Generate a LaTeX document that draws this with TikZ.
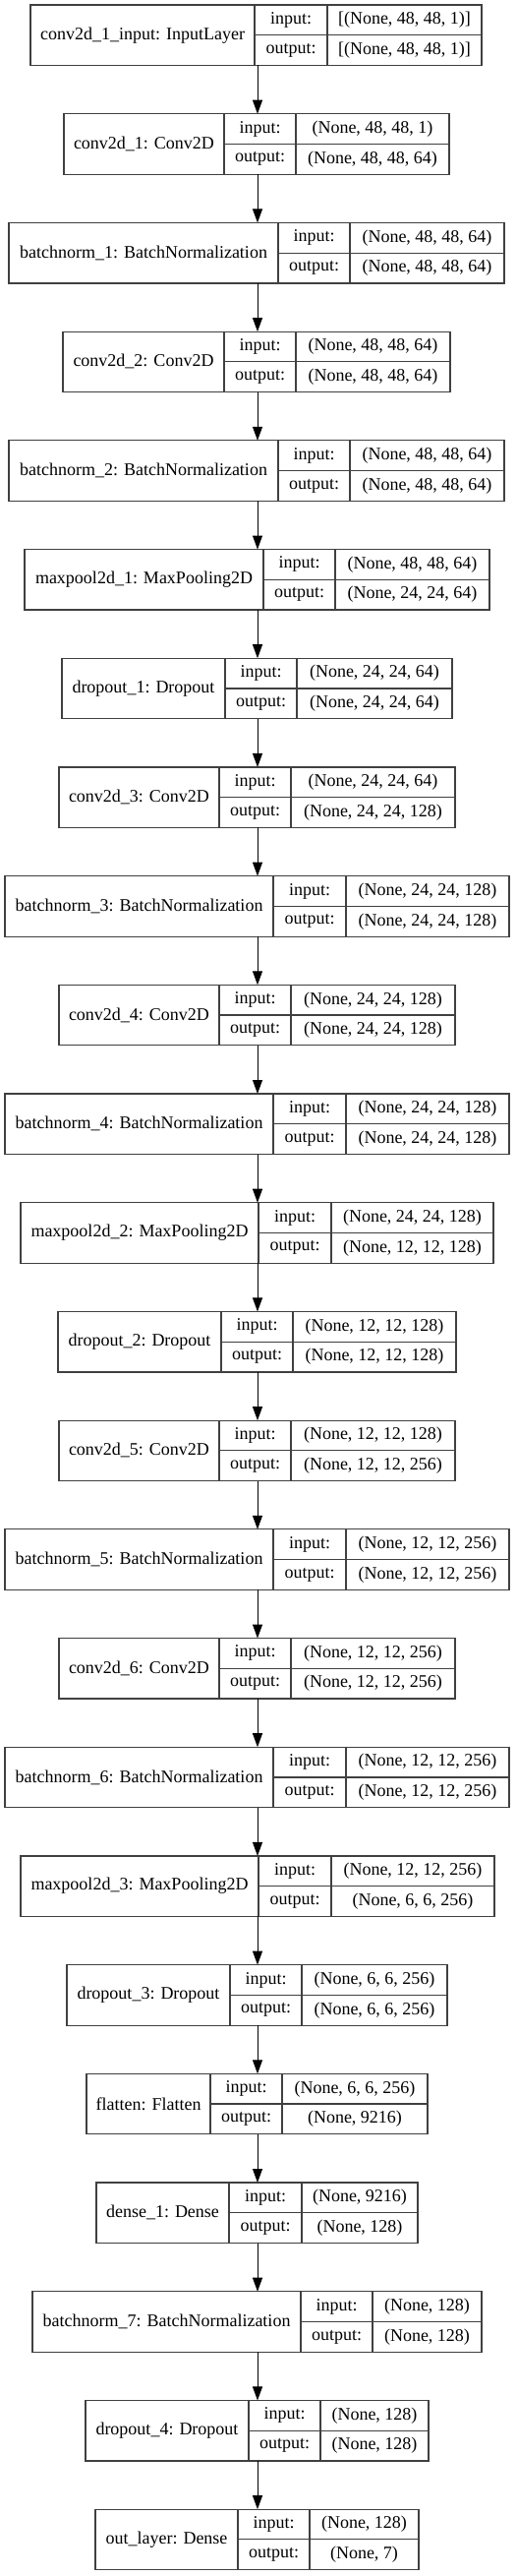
\documentclass[tikz,border=0pt]{standalone}
\usepackage{fontspec}
\setmainfont{Liberation Serif}
\usepackage{tikz}
\usetikzlibrary{arrows.meta, positioning}
\tikzstyle{arrow} = [line width=0.75pt, -{Triangle[length=10.5pt, width=7.5pt]}]
\tikzstyle{cell} = [draw=black!75, line width=0.9pt, inner sep=0pt, outer sep=0pt, font=\fontsize{13.5}{16}\selectfont]

\begin{document}
\begin{tikzpicture}[x=0.75pt, y=-0.75pt]
\useasboundingbox (0,0) rectangle (525,2619);
\coordinate (ax) at (262,0);

% Layers: left / divider / divider / right, name, input, output
\foreach \xl/\da/\db/\xr/\lab/\vin/\vout [count=\i] in {
 31/259/333/490/{conv2d\_1\_input: InputLayer}/{[(None, 48, 48, 1)]}/{[(None, 48, 48, 1)]},
 65/228/301/457/{conv2d\_1: Conv2D}/{(None, 48, 48, 1)}/{(None, 48, 48, 64)},
 9/283/356/513/{batchnorm\_1: BatchNormalization}/{(None, 48, 48, 64)}/{(None, 48, 48, 64)},
 64/228/301/458/{conv2d\_2: Conv2D}/{(None, 48, 48, 64)}/{(None, 48, 48, 64)},
 9/283/356/513/{batchnorm\_2: BatchNormalization}/{(None, 48, 48, 64)}/{(None, 48, 48, 64)},
 25/268/341/498/{maxpool2d\_1: MaxPooling2D}/{(None, 48, 48, 64)}/{(None, 24, 24, 64)},
 63/229/302/460/{dropout\_1: Dropout}/{(None, 24, 24, 64)}/{(None, 24, 24, 64)},
 60/223/296/463/{conv2d\_3: Conv2D}/{(None, 24, 24, 64)}/{(None, 24, 24, 128)},
 5/278/352/518/{batchnorm\_3: BatchNormalization}/{(None, 24, 24, 128)}/{(None, 24, 24, 128)},
 60/223/296/463/{conv2d\_4: Conv2D}/{(None, 24, 24, 128)}/{(None, 24, 24, 128)},
 5/278/352/518/{batchnorm\_4: BatchNormalization}/{(None, 24, 24, 128)}/{(None, 24, 24, 128)},
 21/263/337/502/{maxpool2d\_2: MaxPooling2D}/{(None, 24, 24, 128)}/{(None, 12, 12, 128)},
 59/225/298/464/{dropout\_2: Dropout}/{(None, 12, 12, 128)}/{(None, 12, 12, 128)},
 60/223/296/463/{conv2d\_5: Conv2D}/{(None, 12, 12, 128)}/{(None, 12, 12, 256)},
 5/278/352/518/{batchnorm\_5: BatchNormalization}/{(None, 12, 12, 256)}/{(None, 12, 12, 256)},
 60/223/296/463/{conv2d\_6: Conv2D}/{(None, 12, 12, 256)}/{(None, 12, 12, 256)},
 5/278/352/518/{batchnorm\_6: BatchNormalization}/{(None, 12, 12, 256)}/{(None, 12, 12, 256)},
 21/263/337/503/{maxpool2d\_3: MaxPooling2D}/{(None, 12, 12, 256)}/{(None, 6, 6, 256)},
 68/234/307/455/{dropout\_3: Dropout}/{(None, 6, 6, 256)}/{(None, 6, 6, 256)},
 88/214/287/435/{flatten: Flatten}/{(None, 6, 6, 256)}/{(None, 9216)},
 98/233/307/425/{dense\_1: Dense}/{(None, 9216)}/{(None, 128)},
 33/306/379/490/{batchnorm\_7: BatchNormalization}/{(None, 128)}/{(None, 128)},
 87/253/326/436/{dropout\_4: Dropout}/{(None, 128)}/{(None, 128)},
 97/242/315/426/{out\_layer: Dense}/{(None, 128)}/{(None, 7)}
}{
  \pgfmathsetmacro{\yt}{5+110.7*(\i-1)}
  \node[cell, anchor=north west, minimum width={(\da-\xl)*0.75pt}, minimum height={61.5*0.75pt}] (L\i) at (\xl,\yt) {\lab};
  \node[cell, anchor=north west, minimum width={(\db-\da)*0.75pt}, minimum height={30.75*0.75pt}] (L\i-k1) at (L\i.north east) {input:};
  \node[cell, anchor=north, minimum width={(\db-\da)*0.75pt}, minimum height={30.75*0.75pt}] (L\i-k2) at (L\i-k1.south) {output:};
  \node[cell, anchor=north west, minimum width={(\xr-\db)*0.75pt}, minimum height={30.75*0.75pt}] (L\i-v1) at (L\i-k1.north east) {\vin};
  \node[cell, anchor=north, minimum width={(\xr-\db)*0.75pt}, minimum height={30.75*0.75pt}] (L\i-v2) at (L\i-v1.south) {\vout};
}

% Arrows
\foreach \i [evaluate=\i as \j using int(\i+1)] in {1,...,23}
  \draw[arrow] (L\i.south -| ax) -- (L\j.north -| ax);
\end{tikzpicture}
\end{document}
